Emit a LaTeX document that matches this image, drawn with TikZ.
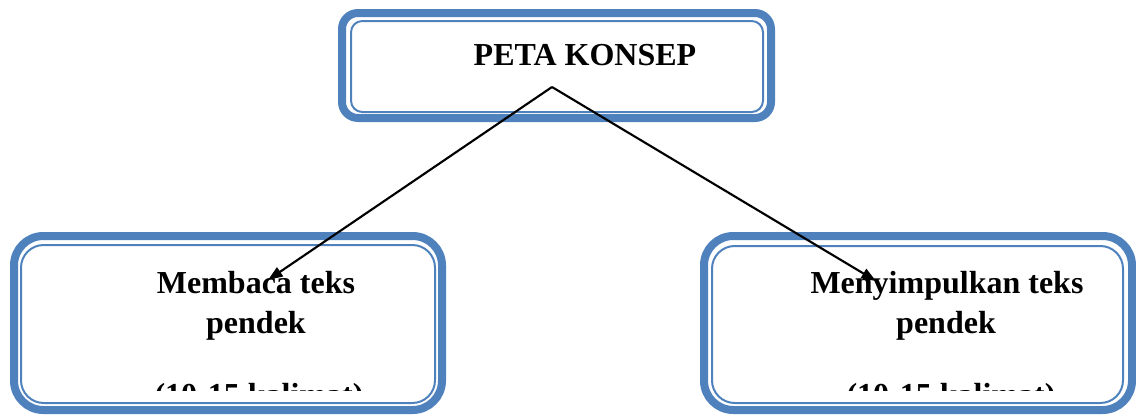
\documentclass[tikz,border=0pt]{standalone}
\usepackage{fontspec}
\setmainfont{Liberation Serif}
\usetikzlibrary{arrows.meta,positioning,calc}
\definecolor{boxblue}{HTML}{4F81BD}
\begin{document}
\begin{tikzpicture}[x=0.75pt,y=-0.75pt,
    >={Triangle[length=11pt,width=8pt]},
    frame/.style={draw=boxblue,line width=6pt,inner sep=0pt},
    inframe/.style={draw=boxblue,line width=1.5pt,inner sep=0pt},
    txt/.style={font=\fontsize{24}{30}\selectfont\bfseries, align=center, anchor=base, inner sep=0pt}
    ]
\useasboundingbox (0,0) rectangle (1136,415);
    %cadre du haut
    \node[frame,rounded corners=12pt,minimum width=321.75pt,minimum height=78.75pt] (petaframe) at (556.5,65.5) {};
    \node[inframe,rounded corners=8.5pt,minimum width=309pt,minimum height=68.25pt] (peta) at (557,66.5) {};
    \node[txt] (petatxt) at (585,65) {PETA KONSEP};
    %cadres du bas
    \node[frame,rounded corners=22pt,minimum width=321pt,minimum height=130.5pt] (membacaframe) at (228,323) {};
    \node[inframe,rounded corners=17pt,minimum width=310.5pt,minimum height=118.5pt] (membaca) at (228,324) {};
    \node[frame,rounded corners=22pt,minimum width=321pt,minimum height=130.5pt] (simpulframe) at (918,323) {};
    \node[inframe,rounded corners=17pt,minimum width=308.25pt,minimum height=117.75pt] (simpul) at (917.5,324.5) {};
    \node[txt] (membacatxt) at (256,293) {Membaca teks};
    \node[txt] (membacapendek) at (256,333) {pendek};
    \node[txt] (simpultxt) at (947,293) {Menyimpulkan teks};
    \node[txt] (simpulpendek) at (946,333) {pendek};
    \begin{scope}
    \clip (0,0) rectangle (1136,390);
    \node[txt] (membacakal) at (259,405) {(10-15 kalimat)};
    \node[txt] (simpulkal) at (951,405) {(10-15 kalimat)};
    \end{scope}
    %fleches
    \coordinate (apex) at (552,87);
    \coordinate (tipL) at (268,280);
    \coordinate (tipR) at (876,281);
    \path (apex) edge [line width=1.6pt,->] (tipL);
    \path (apex) edge [line width=1.6pt,->] (tipR);
\end{tikzpicture}
\end{document}
